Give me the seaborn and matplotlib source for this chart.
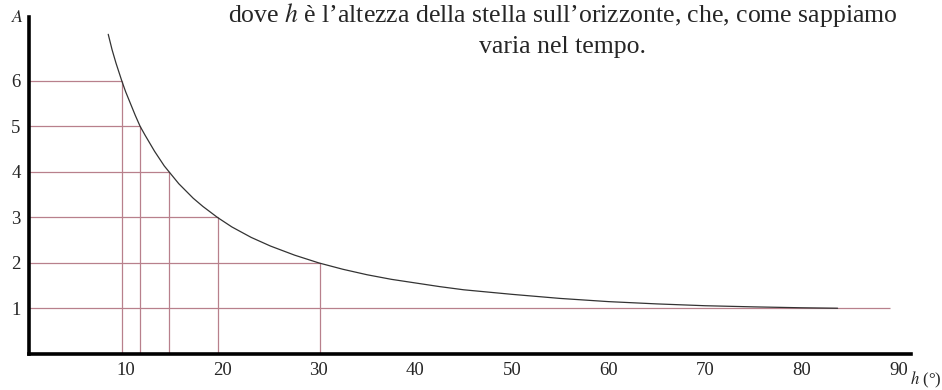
import pandas as pd
import seaborn as sns
import matplotlib.pyplot as plt

# Curve: altitude h (deg) vs airmass A
curve_h = [8.2, 8.6, 9.0, 9.6, 10.0, 11.0, 11.5, 12.0, 13.0, 14.0, 14.5, 15.5,
           17.0, 18.0, 19.5, 21.0, 23.0, 25.0, 27.5, 30.0, 32.5, 35.0, 37.5,
           40.0, 42.5, 45.0, 47.5, 50.0, 55.0, 60.0, 65.0, 70.0, 75.0, 80.0, 83.7]
curve_A = [7.02, 6.68, 6.39, 6.0, 5.76, 5.24, 5.0, 4.81, 4.45, 4.13, 4.0, 3.74,
           3.42, 3.24, 3.0, 2.79, 2.56, 2.37, 2.17, 2.0, 1.86, 1.74, 1.64,
           1.56, 1.48, 1.41, 1.36, 1.31, 1.22, 1.15, 1.10, 1.06, 1.035, 1.015, 1.005]

# Guide lines (red): A levels and where they meet the curve
guide_A = [6, 5, 4, 3, 2]
guide_h = [9.6, 11.5, 14.5, 19.6, 30.1]
base_A = 1
base_end = 89.1

x_ticks = [10, 20, 30, 40, 50, 60, 70, 80, 90]
y_ticks = [1, 2, 3, 4, 5, 6]

df = pd.DataFrame({"h": curve_h, "A": curve_A})

sns.set_style("white")
plt.rcParams['font.family'] = ['Liberation Serif', 'DejaVu Serif']
plt.rcParams['mathtext.fontset'] = 'stix'

fig = plt.figure(figsize=(9.42, 3.90), dpi=100)
ax = fig.add_axes([0.0308, 0.0923, 0.9363, 0.8641])

red = "#b8808c"
ax.hlines(guide_A, 0, guide_h, color=red, linewidth=0.9)
ax.vlines(guide_h, 0, guide_A, color=red, linewidth=0.9)
ax.hlines(base_A, 0, base_end, color=red, linewidth=0.9)

sns.lineplot(data=df, x="h", y="A", ax=ax, sort=False, color="#333333",
             linewidth=0.9, estimator=None)

ax.set_xlim(0, 91.3)
ax.set_ylim(0, 7.4)
ax.set_xticks(x_ticks)
ax.set_yticks(y_ticks)
ax.set_xlabel("")
ax.set_ylabel("")

for s in ["top", "right"]:
    ax.spines[s].set_visible(False)
for s in ["left", "bottom"]:
    ax.spines[s].set_linewidth(2.6)
    ax.spines[s].set_color("black")

ax.tick_params(axis="x", direction="in", length=3, width=1, labelsize=13.5, pad=6)
ax.tick_params(axis="y", length=0, labelsize=13.5, pad=6)

fig.text(0.019, 0.955, "$A$", fontsize=13, ha="center", va="center")
fig.text(0.983, 0.026, "$h$ (°)", fontsize=12, ha="center", va="center")

fig.text(0.597, 0.962, "dove $h$ è l’altezza della stella sull’orizzonte, che, come sappiamo",
         fontsize=18.5, ha="center", va="center")
fig.text(0.597, 0.88, "varia nel tempo.", fontsize=18.5, ha="center", va="center")

fig.savefig("out.png", dpi=100)
